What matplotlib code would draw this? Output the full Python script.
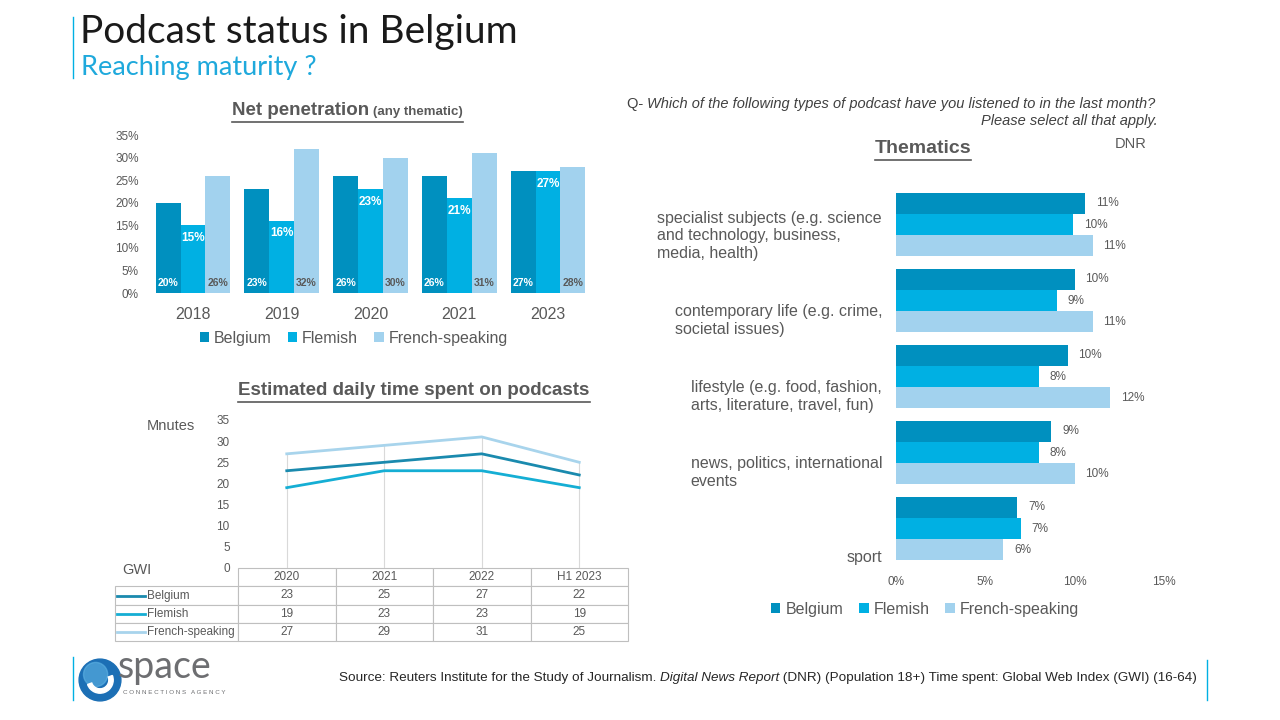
import numpy as np
import matplotlib
matplotlib.use("Agg")
from matplotlib import pyplot as plt
from matplotlib.lines import Line2D
from matplotlib.patches import Circle, Wedge
from matplotlib.table import Table
import matplotlib.transforms as mtransforms

plt.rcParams['font.family'] = ['Liberation Sans', 'DejaVu Sans']

# ---- data ----
series = ['Belgium', 'Flemish', 'French-speaking']
colors = ['#0090BF', '#00B0E3', '#A2D2EE']
line_colors = ['#1A8AAE', '#15AED4', '#A8D4EC']
grey = '#595959'

pen_years = ['2018', '2019', '2020', '2021', '2023']
pen_belgium = [20, 23, 26, 26, 27]
pen_flemish = [15, 16, 23, 21, 27]
pen_french = [26, 32, 30, 31, 28]

time_periods = ['2020', '2021', '2022', 'H1 2023']
time_belgium = [23, 25, 27, 22]
time_flemish = [19, 23, 23, 19]
time_french = [27, 29, 31, 25]

themes = ['specialist subjects (e.g. science\nand technology, business,\nmedia, health)',
          'contemporary life (e.g. crime,\nsocietal issues)',
          'lifestyle (e.g. food, fashion,\narts, literature, travel, fun)',
          'news, politics, international\nevents',
          'sport']
theme_belgium = [10.6, 10.0, 9.6, 8.7, 6.8]
theme_flemish = [9.9, 9.0, 8.0, 8.0, 7.0]
theme_french = [11.0, 11.0, 12.0, 10.0, 6.0]

W, H = 1280, 720
fig = plt.figure(figsize=(12.8, 7.2), dpi=100)


def fx(x):
    return x / W


def fy(y):
    return 1 - y / H


def rect(l, t, r, b):
    return [fx(l), fy(b), (r - l) / W, (b - t) / H]


renderer = fig.canvas.get_renderer()


def underline(txt, pad=3):
    bb = txt.get_window_extent(renderer)
    fig.add_artist(Line2D([bb.x0 / W, bb.x1 / W], [(bb.y0 - pad) / H] * 2,
                          color=grey, lw=1.2))


# ---- header ----
fig.add_artist(Line2D([fx(73), fx(73)], [fy(17), fy(78)], color='#00B0E3', lw=1))
fig.text(fx(80), fy(32), 'Podcast status in Belgium', fontsize=28, family='Lato',
         color='#1a1a1a', va='center')
fig.text(fx(81), fy(68), 'Reaching maturity ?', fontsize=19.5, family='Lato',
         color='#1FA9DC', va='center')

# ---- chart 1: net penetration ----
ax1 = fig.add_axes(rect(148.6, 135, 592.4, 293))
x = np.arange(len(pen_years))
bw = 0.28
for i, (vals, c) in enumerate(zip([pen_belgium, pen_flemish, pen_french], colors)):
    ax1.bar(x + (i - 1) * bw, vals, width=bw, color=c, label=series[i])
for xi, v in zip(x, pen_belgium):
    ax1.text(xi - bw, 2.2, f'{v}%', ha='center', va='center', color='white',
             fontsize=7.5, fontweight='bold')
for xi, v in zip(x, pen_flemish):
    ax1.text(xi, v - 2.8, f'{v}%', ha='center', va='center', color='white',
             fontsize=8.5, fontweight='bold')
for xi, v in zip(x, pen_french):
    ax1.text(xi + bw, 2.2, f'{v}%', ha='center', va='center', color=grey,
             fontsize=7.5, fontweight='bold')
ax1.set_xlim(-0.5, len(pen_years) - 0.5)
ax1.set_ylim(0, 35)
ax1.set_yticks(range(0, 36, 5))
ax1.set_yticklabels([f'{t}%' for t in range(0, 36, 5)])
ax1.set_xticks(x)
ax1.set_xticklabels(pen_years, fontsize=11.5)
ax1.tick_params(axis='y', labelsize=8.5, colors=grey, length=0, pad=7)
ax1.tick_params(axis='x', colors=grey, length=0, pad=10)
for s in ax1.spines.values():
    s.set_visible(False)
ax1.legend(loc='center', bbox_to_anchor=(0.462, -0.285), ncol=3, frameon=False,
           fontsize=11.5, handlelength=0.6, handleheight=0.6, handletextpad=0.3,
           columnspacing=1.0, labelcolor=grey)

t1 = fig.text(fx(232), fy(115), 'Net penetration', fontsize=13.5, fontweight='bold',
              color=grey, va='baseline')
bb = t1.get_window_extent(renderer)
t1b = fig.text((bb.x1 + 4) / W, fy(115), '(any thematic)', fontsize=9.5, fontweight='bold',
               color=grey, va='baseline')
bb2 = t1b.get_window_extent(renderer)
fig.add_artist(Line2D([bb.x0 / W, bb2.x1 / W], [(bb.y0 - 3) / H] * 2, color=grey, lw=1.2))

# ---- chart 2: daily time ----
ax2 = fig.add_axes(rect(238, 420, 628, 568))
xt = np.arange(len(time_periods))
all_time = [time_belgium, time_flemish, time_french]
ax2.vlines(xt, 0, np.max(all_time, axis=0), color='#D9D9D9', lw=0.8, zorder=1)
for vals, c in zip(all_time, line_colors):
    ax2.plot(xt, vals, color=c, lw=2, zorder=2)
ax2.set_xlim(-0.5, len(time_periods) - 0.5)
ax2.set_ylim(0, 35)
ax2.set_yticks(range(0, 36, 5))
ax2.set_xticks([])
ax2.tick_params(axis='y', labelsize=8.5, colors=grey, length=0, pad=6)
for s in ax2.spines.values():
    s.set_visible(False)

# data table under the line chart
lab_w = 123 / 390
col_w = 0.25
row_h = 73 / 148 / 4
tb = Table(ax2, bbox=[0, -73 / 148, 1, 73 / 148])
for j, p in enumerate(time_periods):
    tb.add_cell(0, j, col_w, row_h, text=p, loc='center')
for i, vals in enumerate(all_time):
    tb.add_cell(i + 1, -1, lab_w, row_h, text='', loc='left')
    for j, v in enumerate(vals):
        tb.add_cell(i + 1, j, col_w, row_h, text=str(v), loc='center')
tb.auto_set_font_size(False)
for cell in tb.get_celld().values():
    cell.set_edgecolor('#BFBFBF')
    cell.set_linewidth(0.8)
    cell.get_text().set_color(grey)
    cell.get_text().set_fontsize(8.5)
ax2.add_table(tb)
for i, (name, c) in enumerate(zip(series, line_colors)):
    yc = -(19 + 18.2 * i + 9) / 148
    ax2.add_artist(Line2D([(117 - 238) / 390, (145 - 238) / 390], [yc, yc],
                          transform=ax2.transAxes, color=c, lw=2, clip_on=False))
    ax2.text((147 - 238) / 390, yc, name, transform=ax2.transAxes, fontsize=8.5,
             color=grey, va='center', ha='left')
fig.text(fx(147), fy(426), 'Mnutes', fontsize=10.5, color=grey, va='center')
fig.text(fx(122), fy(570), 'GWI', fontsize=10.5, color=grey, va='center')

t2 = fig.text(fx(414), fy(395), 'Estimated daily time spent on podcasts', fontsize=13.5,
              fontweight='bold', color=grey, ha='center', va='baseline')
underline(t2)

# ---- chart 3: thematics ----
ax3 = fig.add_axes(rect(896, 186.5, 1164, 566.5))
y = np.arange(len(themes))
bh = 0.277
for i, (vals, c) in enumerate(zip([theme_belgium, theme_flemish, theme_french], colors)):
    pos = y + (i - 1) * bh
    ax3.barh(pos, vals, height=bh, color=c, label=series[i])
    for p, v in zip(pos, vals):
        ax3.text(v + 0.6, p, f'{v:.0f}%', va='center', ha='left', fontsize=8.5, color=grey)
ax3.set_ylim(len(themes) - 0.5, -0.5)
ax3.set_xlim(0, 15)
ax3.set_xticks([0, 5, 10, 15])
ax3.set_xticklabels(['0%', '5%', '10%', '15%'])
ax3.tick_params(axis='x', labelsize=8.5, colors=grey, length=0, pad=7)
ax3.set_yticks([])
for s in ax3.spines.values():
    s.set_visible(False)
blend = mtransforms.blended_transform_factory(ax3.transAxes, ax3.transData)
for yi, lab in zip(y, themes):
    ax3.text(-0.052, yi + 0.48, lab, transform=blend, ha='right', va='bottom',
             multialignment='left', fontsize=11.5, color=grey, linespacing=1.22)
ax3.legend(loc='center', bbox_to_anchor=(0.108, -0.112), ncol=3, frameon=False,
           fontsize=11.5, handlelength=0.6, handleheight=0.6, handletextpad=0.3,
           columnspacing=1.0, labelcolor=grey)

t3 = fig.text(fx(923), fy(153), 'Thematics', fontsize=14, fontweight='bold',
              color=grey, ha='center', va='baseline')
underline(t3)
fig.text(fx(1131), fy(144), 'DNR', fontsize=10.5, color=grey, ha='center', va='center')
q1 = fig.text(fx(627), fy(104), 'Q- ', fontsize=10.5, color='#404040', va='center')
qb = q1.get_window_extent(renderer)
fig.text(qb.x1 / W, fy(104), 'Which of the following types of podcast have you listened to in the last month?',
         fontsize=10.5, style='italic', color='#404040', va='center')
fig.text(fx(1158), fy(121), 'Please select all that apply.', fontsize=10.5, style='italic',
         color='#404040', va='center', ha='right')

# ---- footer ----
fig.add_artist(Line2D([fx(73), fx(73)], [fy(657), fy(700)], color='#00B0E3', lw=1))
fig.add_artist(Line2D([fx(1207), fx(1207)], [fy(660), fy(700)], color='#00B0E3', lw=1))
lax = fig.add_axes(rect(78, 657, 122, 703))
lax.set_xlim(-1, 1)
lax.set_ylim(-1, 1)
lax.set_aspect('equal')
lax.axis('off')
lax.add_patch(Circle((0, 0), 0.95, color='#1C6FB5'))
lax.add_patch(Circle((-0.2, 0.25), 0.55, color='#5FB4E5', alpha=0.6))
lax.add_patch(Wedge((0, 0), 0.6, 200, 20, width=0.2, color='white'))
fig.text(fx(118), fy(667), 'space', fontsize=27, family='Lato',
         color='#6D6E71', va='center')
fig.text(fx(123), fy(692), 'C O N N E C T I O N S   A G E N C Y', fontsize=4.5,
         color='#6D6E71', va='center')

sx = 339
parts = [('Source: Reuters Institute for the Study of Journalism. ', 'normal'),
         ('Digital News Report', 'italic'),
         (' (DNR) (Population 18+) Time spent: Global Web Index (GWI) (16-64)', 'normal')]
for txt, st in parts:
    t = fig.text(fx(sx), fy(678), txt, fontsize=9.7, style=st, color='#262626', va='center')
    sx = t.get_window_extent(renderer).x1

fig.savefig('out.png', dpi=100)
